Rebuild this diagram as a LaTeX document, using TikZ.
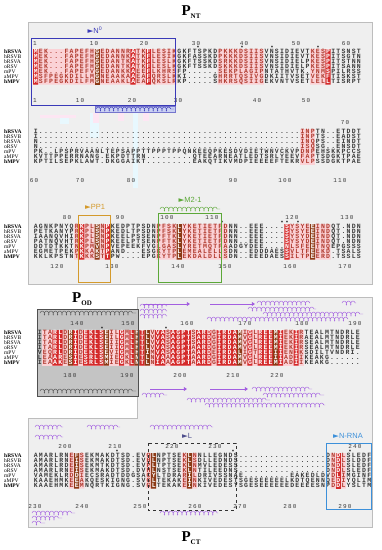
\documentclass[tikz,border=0pt]{standalone}
\usepackage{fontspec}
\setmainfont{Liberation Serif}
\setsansfont{Liberation Sans}
\newfontfamily\seqfont{Liberation Mono}
\newfontfamily\numfont{Liberation Mono}[LetterSpace=18.9]
\newfontfamily\symfont{DejaVu Sans}
\usetikzlibrary{arrows.meta,decorations.pathmorphing}

\definecolor{panelfill}{HTML}{EFEFEF}
\definecolor{paneledge}{HTML}{BDBDBD}
\definecolor{podfill}{HTML}{C4C4C4}
\definecolor{podedge}{HTML}{505050}
\definecolor{simfill}{HTML}{FBD2D6}
\definecolor{idred}{HTML}{D42A2A}
\definecolor{idbrown}{HTML}{8B3A16}
\definecolor{seqtext}{HTML}{3A3A3A}
\definecolor{simtext}{HTML}{B03A2E}
\definecolor{helixpurple}{HTML}{A35FE0}
\definecolor{nzeroblue}{HTML}{3A3AB8}
\definecolor{nzerofill}{HTML}{C9D0F2}
\definecolor{ppone}{HTML}{D49A2C}
\definecolor{mtwo}{HTML}{5CA838}
\definecolor{lbind}{HTML}{4E4E8C}
\definecolor{nrna}{HTML}{3C90DA}

% geometry of the alignment
\newcommand\colw{5.13}
\newcommand\roww{4.95}
\newcommand\blkx{33}
\newcommand\blky{52}

% one residue per cell; white on the boxed columns, red on the similar ones
\ExplSyntaxOn
\int_new:N \l_aln_col_int
\bool_new:N \l_aln_pink_bool
\clist_new:N \l_aln_white_clist
\clist_new:N \l_aln_pink_clist
\cs_new:Npn \dotgap #1 { \prg_replicate:nn {#1} {.} }
\NewDocumentCommand \setrow { m m } { \tl_set:cx {#1} {#2} }
\NewDocumentCommand \alncols { m m }
  { \clist_set:Nn \l_aln_white_clist {#1} \clist_set:Nn \l_aln_pink_clist {#2} }
\cs_new_protected:Npn \aln_check:nnn #1#2#3
  {
    \int_compare:nNnF {#1} < {#2}
      { \int_compare:nNnF {#1} > {#3} { \bool_set_true:N \l_aln_pink_bool } }
  }
\cs_new_protected:Npn \aln_cell:n #1
  {
    \bool_set_false:N \l_aln_pink_bool
    \clist_map_inline:Nn \l_aln_pink_clist { \aln_check:nnn { \l_aln_col_int } ##1 }
    \clist_if_in:NoTF \l_aln_white_clist { \int_use:N \l_aln_col_int }
      { \makebox[\colw pt]{\textcolor{white}{#1}} }
      {
        \bool_if:NTF \l_aln_pink_bool
          { \makebox[\colw pt]{\textcolor{simtext}{#1}} }
          { \makebox[\colw pt]{#1} }
      }
    \int_incr:N \l_aln_col_int
  }
\cs_new_protected:Npn \aln_row:n #1
  { \int_zero:N \l_aln_col_int \tl_map_function:nN {#1} \aln_cell:n }
\NewDocumentCommand \alnrow { m } { \exp_args:Nv \aln_row:n {#1} }
\ExplSyntaxOff

% column rectangles of the current block
\newcommand\cols[1]{\foreach \ca/\cb in {#1} {({\blkx+\colw*\ca},{\blky-2.9}) rectangle ({\blkx+\colw*(\cb+1)},{\blky+6*\roww+2.9})}}
% the seven rows of the current block
\newcommand\seqrows[2]{\foreach \i in {1,...,7}{\node[seq] (#1\i) at ({\blkx},{\blky+\roww*(\i-1)+1.9}) {\raisebox{0pt}[4.2pt][0pt]{\alnrow{#2\i}}};}}
\newcommand\seqnames[1]{\foreach \nm [count=\i] in {\textbf{hRSVA},hRSVB,bRSVA,oRSV,mPV,aMPV,\textbf{hMPV}} \node[sname] (#1\i) at (4,{\blky+\roww*(\i-1)+1.7}) {\nm};}
\newcommand\numrow[3]{\foreach \nx/\nv in {#3} \node[num] (#1\nv) at (\nx,#2) {\nv};}

% N-terminal rows
\setrow{nta1}{MEK...FAPEFHGEDANNRATKFLESIKGKFTSPKDPKKKDSIISVNSIDIEVTKESPITSNST}
\setrow{nta2}{MEK...FAPEFHGEDANNKATKFLESIKGKFASSKDPKKKDSIISVNSIDIEVTKESPITSGTN}
\setrow{nta3}{MEK...FAPEFHGEDANTKATKFLESLKGKFTSSKDSRKKDSIISVNSIDIELPKESPITSTNN}
\setrow{nta4}{MEK...FAPEFHGEDANTKATKFLESLKGKFTSSKDSKKKDSIISVNSIDIELPKESPITSANN}
\setrow{nta5}{MEK...FAPEFVGEDANKKAEEFLKHRSFP......SEKPLAGIPNTATHVTK.YNMSPILRSS}
\setrow{nta6}{MSFPEGKDILLMGNEAAKAAEAFQRSLKKI.....GHRRTQSIVGDKIITVSETVEKFTISKST}
\setrow{nta7}{MSFPEGKDILFMGNEAAKLAEAFQKSLRKP.....SHKRSQSIIGEKVNTVSETLELLTISRPT}
\setrow{ntb1}{I\dotgap{51}INPTN..ETDDT}
\setrow{ntb2}{I\dotgap{51}INPTS..EADST}
\setrow{ntb3}{N\dotgap{51}INQPS..EINDT}
\setrow{ntb4}{N\dotgap{51}ISQSG..ENSDT}
\setrow{ntb5}{PK..LPSPRVAANLTEPSAPPTTPPPTPPQNKEEQPKESDVDIETWNVCKVPDNPEHSKKPCCS}
\setrow{ntb6}{KVTTPPERRNANG.EKPDTTRN.........QTEEARNEATLEDTSRLYEEVFAPTSDGKTPAE}
\setrow{ntb7}{KPTILSEPKLAWT.DKGGAIKT.........EAKQTIKVMDPIEEEEFTEKRVLPSSDGKTPAE}
\setrow{ntc1}{AGNKPNYQRKPLSNPKEDPTPSDNPFSKLYKETIETFDNN..EEE....SYSYEEINDQT.NDN}
\setrow{ntc2}{PETKANYPRKPLSNPKEDLTPSDNPFSKLYKETIETFDNN..EEE....SYSYEEINDQT.NDN}
\setrow{ntc3}{IAANQVHIRKPLSNPKEELPSSENPFTKLYKETIETFDNN..EEE....SYSYDEINDQT.NDN}
\setrow{ntc4}{PATNQVHTRKPLSNPKEELPTSENPFTKLYKETIETFDNN..EEE....SYSYDEINDQT.NDN}
\setrow{ntc5}{DDTDTKKTNKPMVNPVEPEEKFVGLGASLYRETMQTFAADGYDEE....NLSFEETNQEPGSSS}
\setrow{ntc6}{EGMETPEKPKKAKTPAND...ESGKYTPLEMEALELLSDN..EDDDAESSVLTFEEKD.TSALS}
\setrow{ntc7}{KKLKPSTNTKKKSTTPW....EPGKYTPLEKDALDLLSDN..EEEDAESSILTPEERD.TSSLS}
% oligomerisation domain rows
\setrow{od1}{ITARLDRIDEKLSEILGMLHTLVVASAGPTSARDGIRDAMIGLREEMIEKIRTEALMTNDRLE}
\setrow{od2}{ITARLDRIDEKLSEILGMLHTLVVASAGPTSARDGIRDAMVGLREEMIEKIRAEALMTNDRLE}
\setrow{od3}{ITARLDRIDEKLSEIIGMLHTLVVASAGPTSARDGIRDAMVGLREEMIEKIRSEALMTNDRLE}
\setrow{od4}{ITARLDRIDEKLSEIIGMLHTLVVASAGPTAARDGIRDAMVGLREEMIEKIRSEALMTNDRLE}
\setrow{od5}{VEQRLDRIDEKLSEVIGMLHTIMVASAGPTAARDEIRDALIGTREEIIENIKSDILTVNDRI.}
\setrow{od6}{LEAARESIESRLSMIEGKLNTLNVAAAGPTAARDGIRDAMVGLREEIIADIIKEAKG......}
\setrow{od7}{IEAAKESIESRLSMIEGKLNTLNIAAAGPTAARDGIRDAMVGLREEMIADIIKEAKG......}
% C-terminal rows
\setrow{ct1}{AMARLRNEFSEKMAKDTSD.EVQLNPTSEKLNNLLEGNDS\dotgap{17}DNDLSLEDF}
\setrow{ct2}{AMARLRNEISEKMAKDTSD.EVHLNPTSEKLSDLLEDNDS\dotgap{17}DNDLSLDDF}
\setrow{ct3}{AMARLRDEISEKMTKDTSD.EVPLTPTSEKLNMVLEDESS\dotgap{17}DNDLSLEDF}
\setrow{ct4}{AMARLRNEISEKMAKDTSD.DVHLNSTSEKLNTILEEDNS\dotgap{17}DNDLSLEDF}
\setrow{ct5}{VAMEKLRDDIECSRADTDDGSACYLTDRARILDRIVSSNAE\dotgap{9}EAKEDLDVDLIMGINF}
\setrow{ct6}{KAAEHMKEEAKQESKIGNG.SVGLTEKAKEINKIVEDESTSGESEEEEELKDTQENNQEDIYQLIM}
\setrow{ct7}{KAAEHMKEEMNQRTKIGNG.SVGLTEKAKEINKIVEDESTSGESEEEEEEDEEEESNPDDLYSLTM}

\begin{document}
\begin{tikzpicture}[
  x=1pt, y=-1pt,
  panel/.style={fill=panelfill, draw=paneledge, line width=0.6pt},
  seq/.style={anchor=base west, inner sep=0pt, text=seqtext, font=\fontsize{6.5}{6.5}\seqfont\bfseries},
  sname/.style={anchor=base west, inner sep=0pt, font=\fontsize{5.5}{5.5}\selectfont},
  num/.style={anchor=base, inner sep=0pt, text=seqtext, font=\fontsize{6}{6}\numfont},
  starmark/.style={anchor=base, inner sep=0pt, font=\fontsize{5}{5}\sffamily\bfseries},
  lab/.style={inner sep=0pt, font=\fontsize{7.5}{7.5}\sffamily},
  title/.style={inner sep=0pt, font=\fontsize{15}{15}\bfseries},
  region/.style={line width=0.8pt},
  helix/.style={decorate, decoration={coil, aspect=0.55, segment length=4.4pt, amplitude=2pt},
                draw=helixpurple, line width=0.45pt},
  strand/.style={-{Triangle[length=3.2pt, width=4pt]}, draw=helixpurple, line width=1pt},
  ghostc/.style={fill=cyan!9},
  ghostp/.style={fill=magenta!10}
]
  \useasboundingbox (0,0) rectangle (382,550);

  % panels
  \filldraw[panel] (28,22) rectangle (372,284);
  \filldraw[panel] (137,297) -- (372,297) -- (372,527) -- (28,527) -- (28,418) -- (137,418) -- cycle;
  \fill[podfill] (37,309) rectangle (138,396);

  % faint overlay left in the first panel
  \fill[ghostc] (133,113) rectangle (138,188);
  \fill[ghostc] (90,113) rectangle (99,138);
  \fill[ghostc] (60,115) rectangle (69,124);
  \fill[ghostp] (93,113) rectangle (99,123);
  \fill[ghostp] (118,113) rectangle (124,121);
  \fill[ghostp] (143,113) rectangle (149,121);
  \fill[ghostp] (40,115) rectangle (76,118);

  % block 1
  \renewcommand\blkx{33}\renewcommand\blky{52}
  \fill[simfill] \cols{0/27,36/44,54/56};
  \fill[idred] \cols{0,19,22,57};
  \fill[idbrown] \cols{12};
  \alncols{0,12,19,22,57}{{0}{27},{36}{44},{54}{56}}
  \seqrows{ra}{nta}
  \seqnames{nma}
  \numrow{kat}{45}{35/1,94/10,144/20,196/30,244/40,296/50,346/60}
  \numrow{kab}{102}{35/1,80/10,132/20,178/30,257/40,306/50}

  % block 2
  \renewcommand\blky{132}
  \fill[simfill] \cols{52/54};
  \alncols{}{{52}{54}}
  \seqrows{rb}{ntb}
  \seqnames{nmb}
  \numrow{kbt}{124}{345/70}
  \numrow{kbb}{182}{34/60,80/70,131/80,233/90,285/100,340/110}

  % block 3
  \renewcommand\blky{227}
  \fill[simfill] \cols{8/14,24/37,49/57};
  \fill[idred] \cols{9,14,49};
  \fill[idbrown] \cols{12,28,54};
  \alncols{9,12,14,28,49,54}{{8}{14},{24}{37},{49}{57}}
  \seqrows{rc}{ntc}
  \seqnames{nmc}
  \numrow{kct}{219}{67/80,120/90,167/100,212/110,292/120,347/130}
  \numrow{kcb}{268}{57/120,112/130,178/140,225/150,290/160,345/170}

  % block 4
  \renewcommand\blkx{37}\renewcommand\blky{333}
  \fill[simfill] \cols{1/51};
  \fill[idred] \cols{3,4,7,9,10,11,12,16,18,20,23,24,26,27,28,29,31,32,33,35,36,37,38,41,43,44,45,47,50};
  \fill[idbrown] \cols{6,13,19,21,39,46};
  \alncols{3,4,6,7,9,10,11,12,13,16,18,19,20,21,23,24,26,27,28,29,31,32,33,35,36,37,38,39,41,43,44,45,46,47,50}{{1}{51}}
  \seqrows{rd}{od}
  \seqnames{nmd}
  \numrow{kdt}{325}{77/140,128/150,187/160,245/170,302/180,355/190}
  \numrow{kdb}{377}{70/180,127/190,180/200,233/210,277/220}

  % block 5
  \renewcommand\blkx{33}\renewcommand\blky{456}
  \fill[simfill] \cols{7/9,22/23,29/31,58/60};
  \fill[idred] \cols{59};
  \fill[idbrown] \cols{8,23,30};
  \alncols{8,23,30,59}{{7}{9},{22}{23},{29}{31},{58}{60}}
  \seqrows{re}{ct}
  \seqnames{nme}
  \numrow{ket}{448}{65/200,115/210,172/220,215/230,355/240}
  \numrow{keb}{508}{35/230,82/240,140/250,195/260,240/270,290/280,345/290}

  % conservation stars
  \foreach \sx/\sy [count=\k] in {198/49,242/49,272/49,318/49,222/224,282/224,287/224,298/224,
                                   102/330,166/330,117/453,233/453,350/453}
    \node[starmark] (star\k) at (\sx,\sy) {*};

  % oligomerisation box
  \draw[helix, draw=podedge] (40,313) -- (136,313);
  \draw[helix, draw=podedge] (40,391) -- (136,391);
  \draw[podedge, line width=0.7pt] (37,309) rectangle (138,396);

  % secondary structure
  \foreach \xa/\xb/\yy in {257/310/303,342/356/303,140/167/306,140/167/311,140/167/316,
                           248/316/309,263/363/314,207/348/319,
                           252/312/389,142/167/395,263/324/395,187/270/400,205/325/405,
                           35/63/427,87/120/427,150/213/427,35/63/437,
                           32/75/513,32/62/518,32/45/523,160/218/513}
    \draw[helix] (\xa,\yy) -- (\xb,\yy);
  \foreach \xa/\xb/\yy in {143/190/304,210/255/304,150/187/389,210/248/389}
    \draw[strand] (\xa,\yy) -- (\xb,\yy);

  % binding regions
  \draw[region, draw=nzeroblue] (31,38) rectangle (175,105);
  \filldraw[fill=nzerofill, draw=nzeroblue!70, line width=0.4pt] (95,106) rectangle (175,112);
  \draw[helix, draw=nzeroblue] (96,109) -- (174,109);
  \node[lab, text=nzeroblue] (lnzero) at (95,30) {{\symfont ►}N\textsuperscript{0}};
  \draw[region, draw=ppone] (78,215) rectangle (110,282);
  \node[lab, text=ppone] (lppone) at (95,207) {{\symfont ►}PP1};
  \draw[region, draw=mtwo] (158,213) rectangle (221,282);
  \draw[helix, draw=mtwo] (160,209) -- (220,209);
  \node[lab, text=mtwo] (lmtwo) at (190,200) {{\symfont ►}M2-1};
  \draw[region, dashed, draw=black!80] (148,443) rectangle (236,510);
  \node[lab, text=lbind] (lbind) at (187,436) {{\symfont ►}L};
  \draw[region, draw=nrna] (326,443) rectangle (371,509);
  \node[lab, text=nrna] (lnrna) at (348,436) {{\symfont ►}N-RNA};

  % domain titles
  \node[title] (tnt) at (191,12) {P\raisebox{-3pt}{\fontsize{7}{7}\selectfont NT}};
  \node[title] (tod) at (82,299) {P\raisebox{-3pt}{\fontsize{7}{7}\selectfont OD}};
  \node[title] (tct) at (191,538) {P\raisebox{-3pt}{\fontsize{7}{7}\selectfont CT}};
\end{tikzpicture}
\end{document}
